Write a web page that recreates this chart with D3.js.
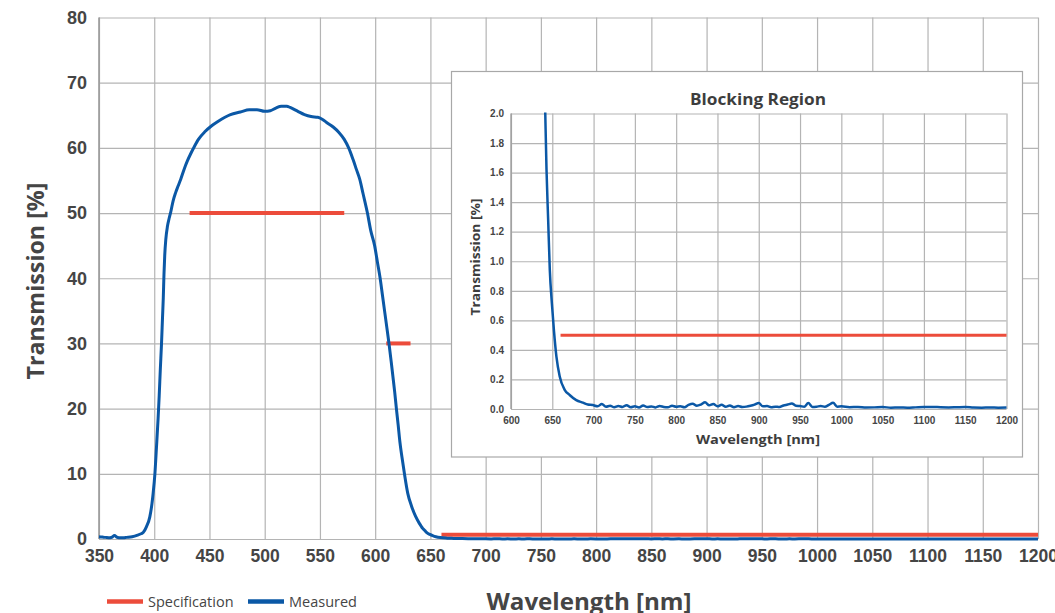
<!DOCTYPE html>
<html>
<head>
<meta charset="utf-8">
<script src="https://cdn.jsdelivr.net/npm/d3@7/dist/d3.min.js"></script>
<style>
  body { margin: 0; background: #fff; overflow: hidden; }
  svg { display: block; font-family: 'Open Sans', 'Noto Sans', sans-serif; }
  .grid line { stroke: #b4b4b4; stroke-width: 1.2; }
  .grid path { display: none; }
  .tick-lbl text { fill: #454545; font-weight: 600; }
  .tick-lbl path, .tick-lbl line { display: none; }
</style>
</head>
<body>
<svg id="chart" width="1055" height="613"></svg>
<script>

// Measured transmission [nm, %]
const measured = [
  [350, 0.35], [353, 0.3], [356, 0.25], [360, 0.2], [362, 0.3], [364, 0.55], [366, 0.3],
  [368, 0.2], [372, 0.2], [375, 0.25], [380, 0.35], [385, 0.6], [388, 0.8], [390, 1.0],
  [393, 1.9], [396, 3.4], [398, 5.5], [399, 7], [400.6, 10], [402, 14], [403.5, 18.5],
  [404.5, 22], [405.5, 26], [406.6, 30], [407.5, 34], [408.2, 37], [408.8, 40.5],
  [409.5, 43.5], [410.5, 46], [412, 48], [413.5, 49.2], [415, 50.2], [417, 51.8],
  [419.3, 53.1], [421.5, 54.1], [424, 55.2], [427, 56.7], [430, 58], [433, 59.1],
  [436, 60.1], [440, 61.3], [446, 62.5], [452, 63.4], [458, 64.1], [464, 64.7],
  [469, 65.1], [478, 65.5], [486, 65.85], [493, 65.85], [500, 65.6], [505, 65.7],
  [510, 66.1], [515, 66.4], [520, 66.4], [523, 66.2], [530, 65.6], [536, 65.1],
  [542, 64.8], [548, 64.7], [552, 64.4], [556, 63.9], [562, 63.2], [567, 62.4],
  [572, 61.3], [576, 60], [580, 58.2], [583, 56.7], [586, 55.2], [589, 53],
  [593, 50], [596, 47.3], [599.5, 45], [602, 42.5], [604.5, 40], [606.5, 37.5],
  [608.5, 35], [610.5, 32.5], [612.5, 30], [614.5, 27.2], [616, 25], [617.7, 22.5],
  [619.2, 20], [620.8, 17.5], [622.3, 15], [624.3, 12.5], [626.5, 10], [629.5, 7],
  [633, 5], [636.5, 3.5], [640, 2.4], [641.5, 2.0], [643, 1.62], [645, 1.28],
  [647, 0.94], [649.5, 0.715], [652, 0.53], [655, 0.354], [659, 0.22], [665, 0.13],
  [671, 0.095], [679, 0.06], [687, 0.043], [693, 0.03], [699, 0.027],
  [700, 0.025], [705, 0.018], [710, 0.034], [715, 0.015], [720, 0.022], [725, 0.012],
  [730, 0.02], [735, 0.014], [740, 0.026], [745, 0.012], [750, 0.018], [755, 0.01],
  [760, 0.024], [765, 0.013], [770, 0.017], [775, 0.011], [780, 0.02], [785, 0.014],
  [790, 0.012], [795, 0.022], [800, 0.015], [805, 0.019], [810, 0.012], [815, 0.028],
  [820, 0.036], [825, 0.022], [830, 0.03], [835, 0.045], [840, 0.025], [845, 0.034],
  [850, 0.018], [855, 0.028], [860, 0.015], [865, 0.024], [870, 0.012], [875, 0.02],
  [880, 0.014], [885, 0.016], [890, 0.022], [895, 0.03], [900, 0.04], [905, 0.018],
  [910, 0.02], [915, 0.012], [920, 0.016], [925, 0.013], [930, 0.024], [935, 0.03],
  [940, 0.038], [945, 0.022], [950, 0.02], [955, 0.015], [960, 0.04], [965, 0.014],
  [970, 0.016], [975, 0.02], [980, 0.015], [985, 0.028], [990, 0.042], [995, 0.016],
  [1000, 0.018], [1010, 0.012], [1020, 0.014], [1030, 0.01], [1040, 0.011], [1050, 0.013],
  [1060, 0.009], [1070, 0.01], [1080, 0.009], [1090, 0.011], [1100, 0.013], [1110, 0.014],
  [1120, 0.012], [1130, 0.011], [1140, 0.012], [1150, 0.013], [1160, 0.01], [1170, 0.009],
  [1180, 0.01], [1190, 0.009], [1200, 0.01]
]

// Specification segments
const spec = [
  { from: 432, to: 572, t: 50 },
  { from: 610, to: 632, t: 30 },
  { from: 660, to: 1200, t: 0.5 }
]

const main_x_ticks = d3.range(350, 1201, 50)
const main_y_ticks = [0, 10, 20, 30, 40, 50, 60, 70, 80]
const inset_x_ticks = d3.range(600, 1201, 50)
const inset_y_ticks = [0, 0.2, 0.4, 0.6, 0.8, 1.0, 1.2, 1.4, 1.6, 1.8, 2.0]

const legend_items = [
  { label: 'Specification', color: '#ec4c3b' },
  { label: 'Measured', color: '#0b58a6' }
]

const RED = '#ec4c3b'
const BLUE = '#0b58a6'

const svg = d3.select('#chart')

// ---------- Main chart ----------
let x = d3.scaleLinear().domain([350, 1200]).range([99, 1038])
let y = d3.scaleLinear().domain([0, 80]).range([539, 17.5])

svg.append('g')
  .attr('class', 'grid')
  .attr('transform', `translate(0, ${y(0)})`)
  .call(d3.axisBottom(x).tickValues(main_x_ticks).tickSize(-(y(0) - y(80))).tickFormat(''))

svg.append('g')
  .attr('class', 'grid')
  .attr('transform', `translate(${x(350)}, 0)`)
  .call(d3.axisLeft(y).tickValues(main_y_ticks).tickSize(-(x(1200) - x(350))).tickFormat(''))

// Left axis line
svg.append('line')
  .attr('x1', x(350)).attr('x2', x(350))
  .attr('y1', y(80)).attr('y2', y(0))
  .attr('stroke', '#9a9a9a').attr('stroke-width', 1.6)

svg.append('g')
  .attr('class', 'tick-lbl')
  .attr('transform', `translate(0, ${y(0) + 11})`)
  .style('font-size', '17.5px')
  .call(d3.axisBottom(x).tickValues(main_x_ticks).tickSize(0).tickPadding(0).tickFormat(d3.format('d')))

svg.append('g')
  .attr('class', 'tick-lbl')
  .attr('transform', `translate(${x(350) - 12}, 0)`)
  .style('font-size', '18px')
  .call(d3.axisLeft(y).tickValues(main_y_ticks).tickSize(0).tickPadding(0))

svg.append('text')
  .attr('transform', 'translate(44, 281) rotate(-90)')
  .attr('text-anchor', 'middle')
  .attr('fill', '#454545')
  .style('font-size', '24px')
  .style('font-weight', 700)
  .attr('textLength', 197)
  .attr('lengthAdjust', 'spacingAndGlyphs')
  .text('Transmission [%]')

svg.append('text')
  .attr('x', 589).attr('y', 610)
  .attr('text-anchor', 'middle')
  .attr('fill', '#454545')
  .style('font-size', '24px')
  .style('font-weight', 700)
  .attr('textLength', 205)
  .attr('lengthAdjust', 'spacingAndGlyphs')
  .text('Wavelength [nm]')

// Spec lines
svg.selectAll('.spec-main')
  .data(spec)
  .enter()
  .append('line')
    .attr('class', 'spec-main')
    .attr('x1', d => x(d.from))
    .attr('x2', d => x(d.to))
    .attr('y1', d => y(d.t) - (d.t < 1 ? 1 : 0))
    .attr('y2', d => y(d.t) - (d.t < 1 ? 1 : 0))
    .attr('stroke', RED)
    .attr('stroke-width', 4)

let line = d3.line()
  .x(d => x(d[0]))
  .y(d => y(d[1]))
  .curve(d3.curveMonotoneX)

svg.append('path')
  .datum(measured)
  .attr('d', line)
  .attr('fill', 'none')
  .attr('stroke', BLUE)
  .attr('stroke-width', 3)

// Legend
let legend = svg.append('g').attr('transform', 'translate(107, 601.5)')
let leg_offsets = [0, 141]
legend_items.forEach((item, i) => {
  let g = legend.append('g').attr('transform', `translate(${leg_offsets[i]}, 0)`)
  g.append('line')
    .attr('x1', 0).attr('x2', 36)
    .attr('stroke', item.color)
    .attr('stroke-width', 4.5)
  g.append('text')
    .attr('x', 41).attr('y', 5)
    .attr('fill', '#454545')
    .style('font-size', '14.5px')
    .text(item.label)
})

// ---------- Inset: blocking region ----------
svg.append('rect')
  .attr('x', 451.5).attr('y', 71.5)
  .attr('width', 571).attr('height', 385.5)
  .attr('fill', '#fff')
  .attr('stroke', '#a8a8a8')
  .attr('stroke-width', 1.2)

let ix = d3.scaleLinear().domain([600, 1200]).range([511, 1006.5])
let iy = d3.scaleLinear().domain([0, 2]).range([409, 113.5])

svg.append('g')
  .attr('class', 'grid')
  .attr('transform', `translate(0, ${iy(0)})`)
  .call(d3.axisBottom(ix).tickValues(inset_x_ticks).tickSize(-(iy(0) - iy(2))).tickFormat(''))

svg.append('g')
  .attr('class', 'grid')
  .attr('transform', `translate(${ix(600)}, 0)`)
  .call(d3.axisLeft(iy).tickValues(inset_y_ticks).tickSize(-(ix(1200) - ix(600))).tickFormat(''))

svg.append('line')
  .attr('x1', ix(600)).attr('x2', ix(600))
  .attr('y1', iy(2)).attr('y2', iy(0))
  .attr('stroke', '#9a9a9a').attr('stroke-width', 1.3)

svg.append('g')
  .attr('class', 'tick-lbl')
  .attr('transform', `translate(0, ${iy(0) + 8})`)
  .style('font-size', '10px')
  .call(d3.axisBottom(ix).tickValues(inset_x_ticks).tickSize(0).tickPadding(0).tickFormat(d3.format('d')))

svg.append('g')
  .attr('class', 'tick-lbl')
  .attr('transform', `translate(${ix(600) - 7}, 0)`)
  .style('font-size', '10px')
  .call(d3.axisLeft(iy).tickValues(inset_y_ticks).tickSize(0).tickPadding(0).tickFormat(d3.format('.1f')))

svg.append('text')
  .attr('x', 758).attr('y', 104.5)
  .attr('text-anchor', 'middle')
  .attr('fill', '#3d3d3d')
  .style('font-size', '15.5px')
  .style('font-weight', 700)
  .attr('textLength', 136)
  .attr('lengthAdjust', 'spacingAndGlyphs')
  .text('Blocking Region')

svg.append('text')
  .attr('x', 758).attr('y', 444)
  .attr('text-anchor', 'middle')
  .attr('fill', '#3d3d3d')
  .style('font-size', '13px')
  .style('font-weight', 700)
  .attr('textLength', 124)
  .attr('lengthAdjust', 'spacingAndGlyphs')
  .text('Wavelength [nm]')

svg.append('text')
  .attr('transform', 'translate(480, 257) rotate(-90)')
  .attr('text-anchor', 'middle')
  .attr('fill', '#3d3d3d')
  .style('font-size', '13px')
  .style('font-weight', 700)
  .attr('textLength', 117)
  .attr('lengthAdjust', 'spacingAndGlyphs')
  .text('Transmission [%]')

svg.append('clipPath')
  .attr('id', 'inset-clip')
  .append('rect')
    .attr('x', ix(600)).attr('y', iy(2) - 1)
    .attr('width', ix(1200) - ix(600) + 2)
    .attr('height', iy(0) - iy(2) + 2)

svg.append('line')
  .attr('x1', ix(660)).attr('x2', ix(1200))
  .attr('y1', iy(0.5)).attr('y2', iy(0.5))
  .attr('stroke', RED)
  .attr('stroke-width', 3)

let iline = d3.line()
  .x(d => ix(d[0]))
  .y(d => iy(d[1]))
  .curve(d3.curveMonotoneX)

svg.append('path')
  .datum(measured.filter(d => d[0] >= 640))
  .attr('clip-path', 'url(#inset-clip)')
  .attr('d', iline)
  .attr('fill', 'none')
  .attr('stroke', BLUE)
  .attr('stroke-width', 2.5)

</script>
</body>
</html>
